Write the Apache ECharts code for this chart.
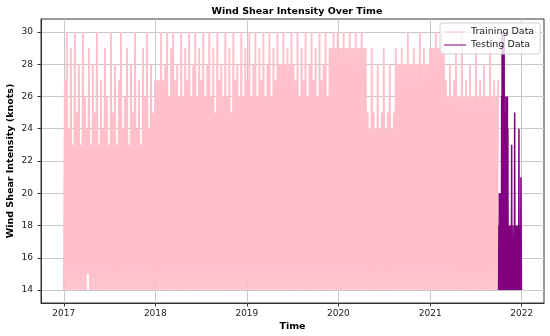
<!DOCTYPE html>
<html>
<head>
<meta charset="utf-8">
<script src="https://cdn.jsdelivr.net/npm/echarts@6/dist/echarts.min.js"></script>
<style>html,body{margin:0;padding:0;background:#fff}#c{width:550px;height:336px}</style>
</head>
<body>
<div id="c"></div>
<script>
// Training series: one value every 4 days starting 2017-01-01
const trainStart = [2017, 0, 1];
const trainStepDays = 4;
const trainValues = [
  // 2017
  14,27,14,30,14,24,14,29,14,23,
  14,30,14,25,14,28,14,23,14,30,
  14,26,14,24,15,29,14,23,14,28,
  14,25,14,30,14,23,14,27,14,24,
  14,29,14,26,14,23,14,30,14,25,
  14,28,14,23,14,27,14,30,14,24,
  14,26,14,29,14,23,14,28,14,25,
  14,30,14,24,14,27,14,23,14,29,
  14,26,14,30,14,24,14,28,14,25,
  14,27,
  // 2018
  14,27,14,27,14,30,14,27,14,28,
  14,30,14,26,14,29,14,30,14,27,
  14,28,14,26,14,30,14,26,14,29,
  14,27,14,30,14,26,14,28,14,30,
  14,26,14,29,14,27,14,30,14,26,
  14,28,14,30,14,26,14,29,14,25,
  14,30,14,27,14,28,14,26,14,30,
  14,26,14,29,14,25,14,30,14,27,
  14,28,14,26,14,30,14,26,14,29,
  14,27,
  // 2019
  14,30,14,26,14,28,14,30,14,26,
  14,29,14,27,14,30,14,26,14,28,
  14,30,14,26,14,29,14,27,14,30,
  14,28,14,28,14,30,14,28,14,29,
  14,28,14,30,14,28,14,27,14,30,
  14,26,14,29,14,27,14,30,14,26,
  14,28,14,30,14,27,14,29,14,26,
  14,30,14,27,14,28,14,30,14,26,
  14,29,14,29,14,30,14,29,14,30,
  14,29,
  // 2020
  14,29,14,30,14,29,14,29,14,30,
  14,29,14,29,14,30,14,29,14,29,
  14,30,14,29,14,29,14,25,14,24,
  14,29,14,25,14,24,14,28,14,24,
  14,25,14,29,14,24,14,25,14,28,
  14,24,14,25,14,29,14,28,14,28,
  14,29,14,28,14,28,14,30,14,28,
  14,28,14,29,14,28,14,28,14,30,
  14,28,14,29,14,28,14,28,14,29,
  14,29,
  // 2021 (to end of September)
  14,29,14,30,14,29,14,29,14,30,
  14,29,14,27,14,26,14,28,14,26,
  14,27,14,29,14,26,14,26,14,30,
  14,26,14,27,14,26,14,28,14,26,
  14,26,14,29,14,26,14,27,14,26,
  14,28,14,26,14,26,14,30,14,26,
  14,27,14,26,14,27
];

// Testing series: daily values from 2021-10-01
const testStart = [2021, 9, 1];
const testStepDays = 1;
const testValues = [
  14,18,15,20,14,17,16,19,14,20,15,
  14,26,15,30,14,28,16,29,14,27,18,30,14,25,15,
  14,25,16,26,14,24,15,25,14,26,16,24,
  14,17,15,18,14,16,17,18,14,15,
  18,14,17,15,23,14,18,16,14,17,
  16,15,16,18,14,17,25,14,18,15,
  14,17,18,14,16,18,15,14,17,18,
  14,16,15,24,14,18,17,14,18,15,
  14,21,18,14
];

const yearTicks = [2017, 2018, 2019, 2020, 2021, 2022];
const yTicks = [14, 16, 18, 20, 22, 24, 26, 28, 30];

const DAY = 86400000;
function toPairs(start, step, vals) {
  const t0 = new Date(start[0], start[1], start[2]).getTime();
  return vals.map((v, i) => [t0 + i * step * DAY, v]);
}
const trainData = toPairs(trainStart, trainStepDays, trainValues);
const testData = toPairs(testStart, testStepDays, testValues);
const xTickValues = yearTicks.map(y => new Date(y, 0, 1).getTime());

const font = 'DejaVu Sans';
const chart = echarts.init(document.getElementById('c'), null, {renderer: 'canvas'});
chart.setOption({
  animation: false,
  backgroundColor: '#fff',
  title: {
    text: 'Wind Shear Intensity Over Time',
    left: 292, top: 2, textAlign: 'center',
    textStyle: {fontFamily: font, fontWeight: 'bold', fontSize: 9.5, color: '#000'}
  },
  grid: {left: 41, right: 6, top: 19, bottom: 33, outerBoundsMode: 'none', containLabel: false,
    show: true, borderColor: '#333', borderWidth: 1, backgroundColor: 'transparent'},
  legend: {
    orient: 'vertical', left: 440, top: 23,
    padding: [4, 6, 4, 4], itemGap: 3, itemWidth: 22, itemHeight: 8,
    backgroundColor: 'rgba(255,255,255,0.8)', borderColor: '#d0d0d0', borderWidth: 1, borderRadius: 3,
    textStyle: {fontFamily: font, fontSize: 9.5, color: '#222'},
    data: [
      {name: 'Training Data', icon: 'path://M0,4.5L22,4.5L22,5.5L0,5.5Z'},
      {name: 'Testing Data', icon: 'path://M0,4.5L22,4.5L22,5.5L0,5.5Z'}
    ]
  },
  xAxis: {
    type: 'value',
    min: new Date(2016, 9, 2).getTime(),
    max: new Date(2022, 2, 31).getTime(),
    name: 'Time', nameLocation: 'middle', nameGap: 19, nameMoveOverlap: false,
    nameTextStyle: {fontFamily: font, fontWeight: 'bold', fontSize: 9.5, color: '#000'},
    axisLine: {show: true, onZero: false, lineStyle: {color: '#333', width: 1}},
    axisTick: {show: true, length: 3.5, customValues: xTickValues, lineStyle: {color: '#333'}},
    axisLabel: {customValues: xTickValues, fontFamily: font, fontSize: 9, color: '#222', margin: 6,
      formatter: v => String(new Date(v).getFullYear())},
    splitLine: {show: true, lineStyle: {color: '#c8c8c8', width: 1}}
  },
  yAxis: {
    type: 'value', min: 13.2, max: 30.8,
    name: 'Wind Shear Intensity (knots)', nameLocation: 'middle', nameGap: 25, nameMoveOverlap: false,
    nameTextStyle: {fontFamily: font, fontWeight: 'bold', fontSize: 9.5, color: '#000'},
    axisLine: {show: true, onZero: false, lineStyle: {color: '#333', width: 1}},
    axisTick: {show: true, length: 3.5, customValues: yTicks, lineStyle: {color: '#333'}},
    axisLabel: {customValues: yTicks, fontFamily: font, fontSize: 9, color: '#222', margin: 8},
    splitLine: {show: true, lineStyle: {color: '#c8c8c8', width: 1}}
  },
  series: [
    {name: 'Training Data', type: 'line', data: trainData, showSymbol: false, symbol: 'none',
      itemStyle: {color: '#FFC0CB'}, lineStyle: {color: '#FFC0CB', width: 1.8}, z: 2},
    {name: 'Testing Data', type: 'line', data: testData, showSymbol: false, symbol: 'none',
      itemStyle: {color: '#800080'}, lineStyle: {color: '#800080', width: 1.5}, z: 3}
  ]
});
</script>
</body>
</html>
